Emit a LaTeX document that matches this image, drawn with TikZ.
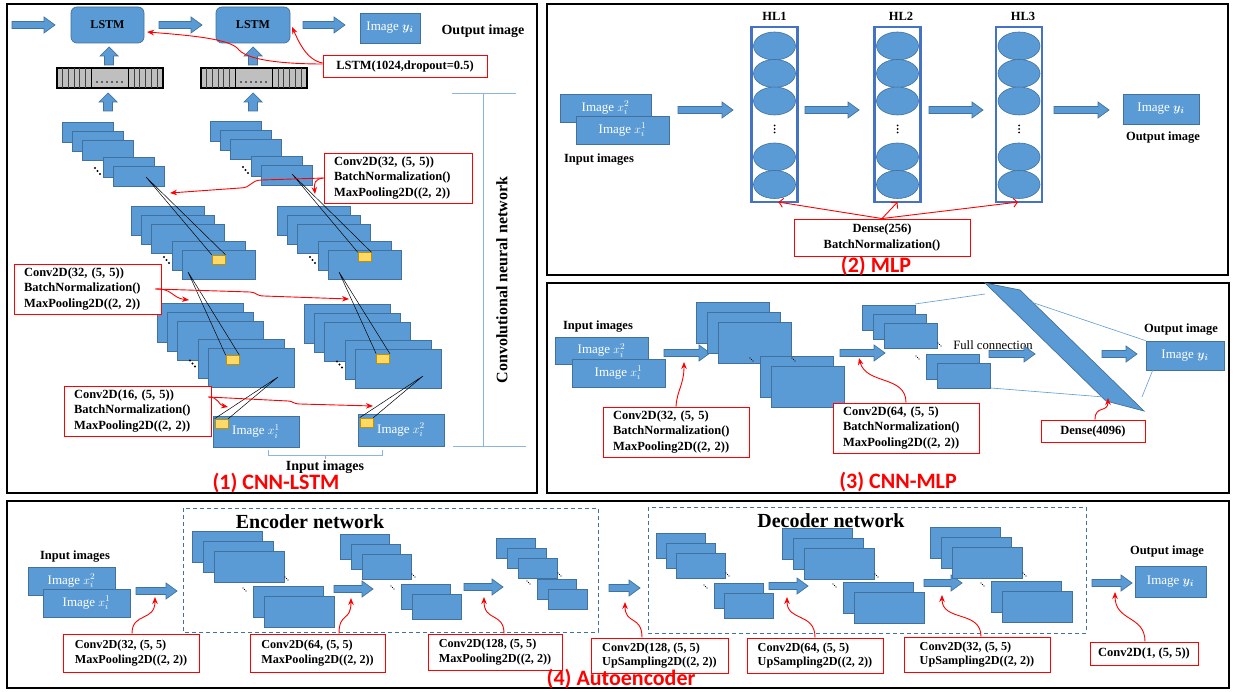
\documentclass[tikz,border=0pt]{standalone}
\usepackage{amsmath}
\usepackage{fontspec}
\setmainfont{Liberation Serif}
\newfontfamily\capfont{Carlito}
\usetikzlibrary{arrows.meta,shapes.geometric}
\definecolor{fmblue}{RGB}{91,155,213}
\definecolor{fmedge}{RGB}{65,113,156}
\definecolor{hlblue}{RGB}{68,114,196}
\definecolor{ylfill}{RGB}{255,217,102}
\definecolor{yledge}{RGB}{191,144,0}
\definecolor{barfill}{RGB}{191,191,191}
\definecolor{brk}{RGB}{140,180,225}
\definecolor{dashc}{RGB}{65,113,156}
\tikzset{
 fmap/.style={fill=fmblue, draw=fmedge, line width=0.7pt},
 barrowst/.style={fill=fmblue, draw=fmedge, line width=0.7pt},
 imgbox/.style={rectangle, fill=fmblue, draw=fmedge, line width=0.7pt, text=white, font=\fontsize{13}{15}\selectfont, inner sep=0pt},
 lstmbox/.style={rectangle, rounded corners=6pt, fill=fmblue, draw=fmedge, line width=0.7pt, font=\bfseries\fontsize{12}{14}\selectfont, inner sep=0pt},
 redbox/.style={rectangle, draw=red, line width=0.9pt, fill=white, font=\bfseries\fontsize{12.5}{15.5}\selectfont, align=left, inner ysep=0pt},
 aebox/.style={rectangle, draw=red, line width=0.9pt, fill=white, font=\bfseries\fontsize{12.2}{14.5}\selectfont, align=left, inner sep=0pt},
 redone/.style={rectangle, draw=red, line width=0.9pt, fill=white, font=\bfseries\fontsize{12.5}{15}\selectfont, inner sep=0pt},
 redarr/.style={draw=red, line width=0.9pt, -{Stealth[length=7pt,width=5.5pt]}},
 redvarr/.style={draw=red, line width=0.9pt, -{Straight Barb[length=4pt,width=9pt]}},
 lbl/.style={font=\bfseries\fontsize{12.5}{15}\selectfont, inner sep=0pt},
 biglbl/.style={font=\bfseries\fontsize{14}{16}\selectfont, inner sep=0pt},
 netlbl/.style={font=\bfseries\fontsize{20}{22}\selectfont, inner sep=0pt},
 ptitle/.style={font=\capfont\bfseries\fontsize{22}{24}\selectfont, text=red, inner sep=0pt},
 ylbox/.style={rectangle, fill=ylfill, draw=yledge, line width=0.7pt, minimum width=13pt, minimum height=9pt, inner sep=0pt},
 panel/.style={draw=black, line width=1.4pt},
 thinline/.style={draw=black, line width=0.5pt},
 fcline/.style={draw=fmblue, line width=0.6pt},
 brkline/.style={draw=brk, line width=0.9pt},
 hlcol/.style={rectangle, draw=hlblue, line width=2.2pt, minimum width=46pt, minimum height=175pt, inner sep=0pt},
 neuron/.style={ellipse, fill=fmblue, draw=fmedge, line width=0.6pt, minimum width=42pt, minimum height=28pt, inner sep=0pt},
 dashbox/.style={draw=dashc, line width=0.9pt, dash pattern=on 4pt off 3pt},
}
% block arrow: x1 x2 y
\newcommand\barrow[3]{\filldraw[barrowst] (#1,{#3-3.5}) -- ({#2-11},{#3-3.5}) -- ({#2-11},{#3-8}) -- (#2,#3) -- ({#2-11},{#3+8}) -- ({#2-11},{#3+3.5}) -- (#1,{#3+3.5}) -- cycle;}
% up arrow: x ytail ytip
\newcommand\uarrow[3]{\filldraw[barrowst] ({#1-4.5},#2) -- ({#1-4.5},{#3+9}) -- ({#1-9},{#3+9}) -- (#1,#3) -- ({#1+9},{#3+9}) -- ({#1+4.5},{#3+9}) -- ({#1+4.5},#2) -- cycle;}
% feature map stack: x y w h dx dy Dx Dy mode
\newcommand\fstack[9]{%
 \filldraw[fmap] (#1,#2) rectangle ++(#3,#4);
 \filldraw[fmap] ({#1+#5},{#2+#6}) rectangle ++(#3,#4);
 \filldraw[fmap] ({#1+2*#5},{#2+2*#6}) rectangle ++(#3,#4);
 \filldraw[fmap] ({#1+#7},{#2+#8}) rectangle ++(#3,#4);
 \filldraw[fmap] ({#1+#7+#5},{#2+#8+#6}) rectangle ++(#3,#4);
 \ifnum#9=1
  \foreach \k in {0,1,2} {\fill ({#1+#7-8+2.5*\k},{#2+#8+0.55*#4+3*\k}) circle (1.1pt);}
 \else
  \foreach \k in {0,1,2} {\fill ({#1+2*#5+#3+1+1.5*\k},{#2+2*#6+#4-5+1.5*\k}) circle (0.6pt);}
  \foreach \k in {0,1,2} {\fill ({#1+#7-10+1.5*\k},{#2+#8+2+1.5*\k}) circle (0.6pt);}
 \fi
}
\newcommand\flatbar[1]{%
 \filldraw[fill=barfill, draw=black, line width=1.1pt] (#1,68) rectangle ++(106,20);
 \foreach \k in {1,...,5} {\draw[line width=0.5pt, black!75] ({#1+5.67*\k},68) -- ++(0,20);}
 \draw[line width=0.9pt] ({#1+34},68) -- ++(0,20);
 \draw[line width=0.9pt] ({#1+71},68) -- ++(0,20);
 \foreach \k in {1,...,5} {\draw[line width=0.5pt, black!75] ({#1+71+5.83*\k},68) -- ++(0,20);}
 \foreach \k in {0,...,5} {\fill ({#1+40+5*\k},82) circle (0.9pt);}
}
\begin{document}
\begin{tikzpicture}[x=1pt,y=-1pt]
\useasboundingbox (0,0) rectangle (1234,692);
\fill[white] (0,0) rectangle (1234,692);
% panels
\draw[panel] (7,4) rectangle (537,493);
\draw[panel] (547,4) rectangle (1228,275);
\draw[panel] (547,283) rectangle (1229,493);
\draw[panel] (7,501) rectangle (1229,688);

%================ (1) CNN-LSTM
\barrow{12}{55}{25}
\node[lstmbox, minimum width=73pt, minimum height=36pt] (lstm1) at (107.5,25) {LSTM};
\barrow{159}{202}{25}
\node[lstmbox, minimum width=74pt, minimum height=36pt] (lstm2) at (253,25) {LSTM};
\barrow{303}{345}{25}
\node[imgbox, minimum width=60pt, minimum height=30pt] (yout1) at (390,28) {Image $\boldsymbol{y_i}$};
\node[biglbl] (outlbl1) at (483,31) {Output image};
\node[redone, minimum width=164pt, minimum height=22pt] (lstmcfg) at (405,66) {LSTM(1024,dropout=0.5)};
\flatbar{57}
\flatbar{201}
\uarrow{109}{65}{47}
\uarrow{253}{65}{47}
\uarrow{108}{111}{93}
\uarrow{253}{111}{93}
\fstack{62}{122}{51}{20}{10}{9}{41}{35}{1}
\fstack{210}{121}{51}{20}{10}{9}{41}{35}{1}
\fstack{131}{206}{73}{29}{10}{9}{41}{35}{1}
\fstack{277}{206}{73}{29}{10}{9}{41}{35}{1}
\fstack{157}{303}{86}{39}{10}{9}{41}{36}{1}
\fstack{304}{304}{86}{39}{10}{9}{41}{36}{1}
\node[imgbox, minimum width=86pt, minimum height=31pt] (xin1) at (256,431.5) {Image $x_i^1$};
\node[imgbox, minimum width=86pt, minimum height=32pt] (xin2) at (401,430) {Image $x_i^2$};
\node[ylbox] (yS2L) at (218.5,259.5) {};
\node[ylbox] (yS3L) at (232.5,360) {};
\node[ylbox] (yI1) at (221.5,423.5) {};
\node[ylbox] (yS2R) at (364.5,257) {};
\node[ylbox] (yS3R) at (383,358.5) {};
\node[ylbox] (yI2) at (366.5,422.5) {};
\coordinate (pS1L) at (146,177);
\coordinate (pS2L) at (188,272);
\coordinate (pS3L) at (278,377);
\coordinate (pS1R) at (292,174);
\coordinate (pS2R) at (339,272);
\coordinate (pS3R) at (423,376);
\draw[thinline] (pS1L) -- (yS2L.north west) (pS1L) -- (yS2L.north east);
\draw[thinline] (pS2L) -- (yS3L.north west) (pS2L) -- (yS3L.north east);
\draw[thinline] (pS3L) -- (yI1.north west) (pS3L) -- (yI1.north east);
\draw[thinline] (pS1R) -- (yS2R.north west) (pS1R) -- (yS2R.north east);
\draw[thinline] (pS2R) -- (yS3R.north west) (pS2R) -- (yS3R.north east);
\draw[thinline] (pS3R) -- (yI2.north west) (pS3R) -- (yI2.north east);
\node[redbox, text width=128pt, inner xsep=10pt, minimum height=50pt] (cfg1) at (398,178) {Conv2D(32, (5, 5))\\BatchNormalization()\\MaxPooling2D((2, 2))};
\node[redbox, text width=127pt, inner xsep=10pt, minimum height=50pt] (cfg2) at (87.5,289) {Conv2D(32, (5, 5))\\BatchNormalization()\\MaxPooling2D((2, 2))};
\node[redbox, text width=127pt, inner xsep=10pt, minimum height=50pt] (cfg3) at (137.5,411) {Conv2D(16, (5, 5))\\BatchNormalization()\\MaxPooling2D((2, 2))};
% bracket CNN
\draw[brkline] (452,93) -- (516,93) (483,93) -- (483,446) (453,446) -- (526,446);
\node[rotate=90, font=\bfseries\fontsize{16}{18}\selectfont, inner sep=0pt] (cnnlbl) at (502,280) {Convolutional neural network};
\draw[brkline] (268,450) -- (268,455) -- (382,455) -- (382,450) (325,455) -- (325,459);
\node[biglbl] (inlbl1) at (325,467) {Input images};
\node[ptitle] (t1) at (276,483) {(1) CNN-LSTM};
% red arrows panel 1
\draw[redarr] ([yshift=2pt]lstmcfg.west) .. controls (295,64) and (250,62) .. (239,50) .. controls (232,40) and (200,36) .. (147,32);
\draw[redarr] ([yshift=3pt]lstmcfg.west) .. controls (306,60) and (298,40) .. (292,27);
\draw[redarr] (cfg1.west) -- (262,180) .. controls (250,180) and (252,188) .. (240,188) -- (170,193);
\draw[redarr] (cfg1.west) .. controls (314,179) and (314,184) .. (315,194);
\draw[redarr] ([xshift=-6pt]cfg2.east) .. controls (172,288) and (172,298) .. (189,300);
\draw[redarr] ([xshift=-6pt]cfg2.east) -- (250,292) .. controls (256,292) and (256,296) .. (264,296) -- (349,299);
\draw[redarr] ([xshift=-3pt,yshift=14pt]cfg3.east) .. controls (219,397) and (218,405) .. (228,407);
\draw[redarr] ([xshift=-3pt,yshift=14pt]cfg3.east) -- (288,401) .. controls (293,401) and (293,404) .. (300,404) -- (373,406);

%================ (2) MLP
\node[imgbox, minimum width=91pt, minimum height=28pt] (m2) at (605.5,108) {Image $x_i^2$};
\node[imgbox, minimum width=93pt, minimum height=28pt] (m1) at (622.5,130) {Image $x_i^1$};
\node[lbl] (minlbl) at (599,160) {Input images};
\barrow{678}{733}{110}
\foreach \cx [count=\i] in {774.5,897.5,1019} {
  \foreach \cy [count=\j] in {46,73.5,101,157,184.5} {\node[neuron] (n\i\j) at (\cx,\cy) {};}
  \foreach \dy in {125.5,129,132.5} {\fill (\cx,\dy) circle (1pt);}
}
\node[hlcol] (hl1) at (774.5,114.5) {};
\node[hlcol] (hl2) at (897.5,114.5) {};
\node[hlcol] (hl3) at (1019,114.5) {};
\node[lbl] (hl1lbl) at (774.5,16) {HL1};
\node[lbl] (hl2lbl) at (901,16) {HL2};
\node[lbl] (hl3lbl) at (1023,16) {HL3};
\barrow{805}{859}{110}
\barrow{929}{983}{110}
\barrow{1054}{1109}{110}
\node[imgbox, minimum width=76pt, minimum height=30pt] (my) at (1161,109) {Image $\boldsymbol{y_i}$};
\node[lbl] (moutlbl) at (1163,138) {Output image};
\node[redbox, align=center, minimum width=176pt, minimum height=37pt, inner sep=0pt] (dense) at (882,237.5) {Dense(256)\\BatchNormalization()};
\draw[redvarr] (dense.north) -- ([xshift=4pt,yshift=1pt]hl1.south);
\draw[redvarr] (dense.north) -- ([yshift=1pt]hl2.south);
\draw[redvarr] (dense.north) -- ([xshift=-1pt,yshift=1pt]hl3.south);
\node[ptitle] (t2) at (876,266) {(2) MLP};

%================ (3) CNN-MLP
\node[lbl] (cinlbl) at (598,327) {Input images};
\node[imgbox, minimum width=93pt, minimum height=27pt] (c2) at (601.5,350.5) {Image $x_i^2$};
\node[imgbox, minimum width=93pt, minimum height=28pt] (c1) at (618.5,373) {Image $x_i^1$};
\barrow{664}{710}{353}
\fstack{696}{302}{73}{41}{11}{10}{64}{54}{2}
\barrow{840}{885}{353}
\fstack{862}{305}{53}{25}{11}{9}{64}{49}{2}
\node[font=\fontsize{12.7}{15}\selectfont, inner sep=0pt] (fc) at (993,345) {Full connection};
\barrow{989}{1035}{354}
\filldraw[fmap] (985,283) -- (1020,290) -- (1144,411) -- (1106,401) -- cycle;
\barrow{1102}{1137}{354}
\node[imgbox, minimum width=78pt, minimum height=29pt] (cy) at (1185,355.5) {Image $\boldsymbol{y_i}$};
\node[lbl] (coutlbl) at (1181,330) {Output image};
\draw[fcline] (915,304) -- (985,294);
\draw[fcline] (991,388) -- (1104,397);
\draw[fcline] (1031,302) -- (cy.north west);
\draw[fcline] (1142,397) -- ([xshift=7pt]cy.south west);
\node[redbox, text width=126pt, inner xsep=10pt, minimum height=50pt] (cc1) at (676,432) {Conv2D(32, (5, 5)\\BatchNormalization()\\MaxPooling2D((2, 2))};
\node[redbox, text width=126pt, inner xsep=10pt, minimum height=50pt] (cc2) at (906,428) {Conv2D(64, (5, 5)\\BatchNormalization()\\MaxPooling2D((2, 2))};
\node[redone, minimum width=104pt, minimum height=22pt] (d4096) at (1093,431) {Dense(4096)};
\draw[redarr] (cc1.north) .. controls (677,390) and (684,385) .. (684,362);
\draw[redarr] (cc2.north) .. controls (906,375) and (866,385) .. (859,358);
\draw[redarr] ([xshift=2pt]d4096.north) .. controls (1095,405) and (1108,413) .. (1108,398);
\node[ptitle] (t3) at (898,482) {(3) CNN-MLP};

%================ (4) Autoencoder
\node[lbl] (ainlbl) at (75,557) {Input images};
\node[imgbox, minimum width=87pt, minimum height=28pt] (a2) at (71.5,581) {Image $x_i^2$};
\node[imgbox, minimum width=87pt, minimum height=28pt] (a1) at (86.5,603) {Image $x_i^1$};
\barrow{136}{177}{591}
\draw[dashbox] (183,508) rectangle (598,632);
\node[netlbl] (enclbl) at (310,522) {Encoder network};
\fstack{192}{531}{70}{31}{11}{10}{61}{55}{2}
\barrow{334}{373}{589}
\fstack{340}{534}{49}{25}{11}{10}{61}{50}{2}
\barrow{464}{503}{587}
\fstack{496}{538}{39}{20}{11}{10}{41}{41}{2}
\barrow{609}{640}{588}
\draw[dashbox] (648,507) rectangle (1086,633);
\node[netlbl] (declbl) at (831,521) {Decoder network};
\fstack{656}{533}{49}{25}{10}{10}{58}{50}{2}
\barrow{769}{808}{586}
\fstack{782}{528}{70}{31}{11}{10}{61}{54}{2}
\barrow{924}{962}{583}
\fstack{930}{527}{70}{31}{11}{10}{61}{54}{2}
\barrow{1092}{1132}{583}
\node[imgbox, minimum width=71pt, minimum height=31pt] (ay) at (1170.5,581.5) {Image $\boldsymbol{y_i}$};
\node[lbl] (aoutlbl) at (1167,552) {Output image};
\node[aebox, minimum width=136pt, minimum height=38pt] (ae1) at (131,653) {Conv2D(32, (5, 5)\\MaxPooling2D((2, 2))};
\node[aebox, minimum width=135pt, minimum height=38pt] (ae2) at (317.5,653) {Conv2D(64, (5, 5)\\MaxPooling2D((2, 2))};
\node[aebox, minimum width=134pt, minimum height=36pt] (ae3) at (495,652) {Conv2D(128, (5, 5)\\MaxPooling2D((2, 2))};
\node[aebox, minimum width=137pt, minimum height=35pt] (de1) at (659.5,655.5) {Conv2D(128, (5, 5)\\UpSampling2D((2, 2))};
\node[aebox, minimum width=136pt, minimum height=35pt] (de2) at (815,655.5) {Conv2D(64, (5, 5)\\UpSampling2D((2, 2))};
\node[aebox, minimum width=146pt, minimum height=35pt] (de3) at (977,654.5) {Conv2D(32, (5, 5)\\UpSampling2D((2, 2))};
\node[redone, minimum width=108pt, minimum height=23pt] (de4) at (1144,653.5) {Conv2D(1, (5, 5))};
\draw[redarr] ([xshift=1pt]ae1.north) .. controls (132,612) and (155,622) .. (155,597);
\draw[redarr] ([xshift=21.5pt]ae2.north) .. controls (339,612) and (351,622) .. (351,598);
\draw[redarr] ([xshift=9pt]ae3.north) .. controls (504,612) and (484,622) .. (484,597);
\draw[redarr] ([xshift=-17.5pt]de1.north) .. controls (642,615) and (625,625) .. (625,602);
\draw[redarr] (de2.north) .. controls (815,612) and (787,622) .. (787,597);
\draw[redarr] ([xshift=4pt]de3.north) .. controls (981,610) and (942,622) .. (942,595);
\draw[redarr] ([xshift=1pt]de4.north) .. controls (1145,615) and (1115,622) .. (1115,592);
\node[ptitle] (t4) at (621,679) {(4) Autoencoder};
\end{tikzpicture}
\end{document}
